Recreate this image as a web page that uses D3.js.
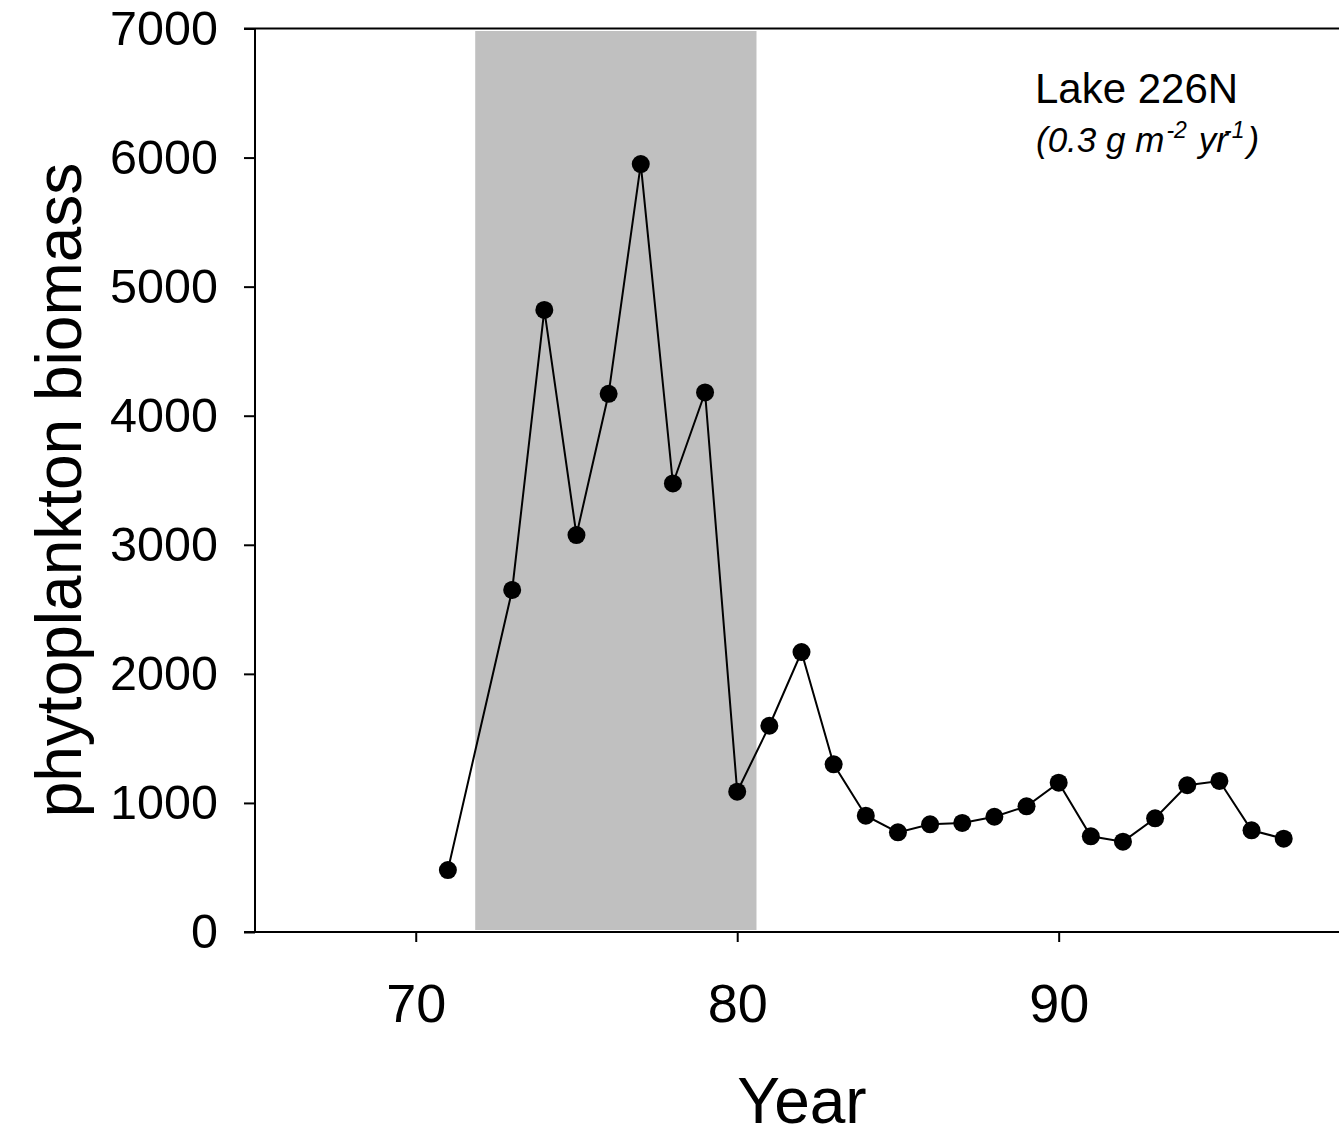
<!DOCTYPE html>
<html>
<head>
<meta charset="utf-8">
<script src="https://cdn.jsdelivr.net/npm/d3@7"></script>
<style>
  html, body { margin: 0; padding: 0; background: #fff; }
  svg { display: block; font-family: "Liberation Sans", Arial, sans-serif; }
</style>
</head>
<body>
<svg id="chart" width="1339" height="1128"></svg>
<script>
// ---- data ----
const years = [71, 73, 74, 75, 76, 77, 78, 79, 80, 81, 82, 83, 84, 85, 86, 87, 88, 89, 90, 91, 92, 93, 94, 95, 96, 97];
const biomass = [480, 2650, 4820, 3075, 4170, 5950, 3475, 4180, 1087, 1598, 2169, 1299, 901, 772, 834, 845, 893, 974, 1157, 741, 700, 881, 1137, 1170, 788, 723];
const xTicks = [70, 80, 90];
const yTicks = [0, 1000, 2000, 3000, 4000, 5000, 6000, 7000];
const shadeRange = [71.85, 80.6];
const xDomain = [65, 98.72];
const yDomain = [0, 7000];
const title = "Lake 226N";
const xLabel = "Year";
const yLabel = "phytoplankton biomass";

// ---- layout ----
const mLeft = 255, mRight = 1339, mTop = 28.5, mBottom = 932;
const svg = d3.select("#chart");

const x = d3.scaleLinear().domain(xDomain).range([mLeft, mRight]);
const y = d3.scaleLinear().domain(yDomain).range([mBottom, mTop]);

// shaded period
svg.append("rect")
  .attr("x", x(shadeRange[0]))
  .attr("y", y(yDomain[1]) + 2.5)
  .attr("width", x(shadeRange[1]) - x(shadeRange[0]))
  .attr("height", y(0) - y(yDomain[1]) - 4.5)
  .attr("fill", "#c0c0c0");

// y axis
const yAxis = svg.append("g")
  .attr("transform", `translate(${mLeft},0)`)
  .call(d3.axisLeft(y).tickValues(yTicks).tickSize(11).tickSizeOuter(0).tickPadding(26).tickFormat(d3.format("d")));
yAxis.select(".domain").remove();
yAxis.selectAll(".tick line").attr("stroke", "#000").attr("stroke-width", 2);
yAxis.selectAll(".tick text").attr("font-size", 48.5).attr("fill", "#000")
  .attr("font-family", "Liberation Sans, Arial, sans-serif");

// x axis
const xAxis = svg.append("g")
  .attr("transform", `translate(0,${mBottom})`)
  .call(d3.axisBottom(x).tickValues(xTicks).tickSize(10).tickSizeOuter(0).tickPadding(42).tickFormat(d3.format("d")));
xAxis.select(".domain").remove();
xAxis.selectAll(".tick line").attr("stroke", "#000").attr("stroke-width", 2);
xAxis.selectAll(".tick text").attr("font-size", 54).attr("fill", "#000")
  .attr("font-family", "Liberation Sans, Arial, sans-serif");

// frame lines
svg.append("line").attr("x1", mLeft - 11).attr("x2", mRight).attr("y1", mBottom).attr("y2", mBottom)
  .attr("stroke", "#000").attr("stroke-width", 2);
svg.append("line").attr("x1", mLeft - 11).attr("x2", mRight).attr("y1", mTop).attr("y2", mTop)
  .attr("stroke", "#000").attr("stroke-width", 2);
svg.append("line").attr("x1", mLeft).attr("x2", mLeft).attr("y1", mTop).attr("y2", mBottom)
  .attr("stroke", "#000").attr("stroke-width", 2);

// data line
const pts = years.map((yr, i) => [yr, biomass[i]]);
svg.append("path")
  .datum(pts)
  .attr("fill", "none")
  .attr("stroke", "#000")
  .attr("stroke-width", 2)
  .attr("d", d3.line().x(d => x(d[0])).y(d => y(d[1])));

svg.append("g").selectAll("circle")
  .data(pts)
  .join("circle")
  .attr("cx", d => x(d[0]))
  .attr("cy", d => y(d[1]))
  .attr("r", 9)
  .attr("fill", "#000");

// axis labels
svg.append("text")
  .attr("x", 802).attr("y", 1123)
  .attr("text-anchor", "middle")
  .attr("font-size", 64)
  .text(xLabel);

svg.append("text")
  .attr("transform", "translate(81,490) rotate(-90)")
  .attr("text-anchor", "middle")
  .attr("font-size", 64)
  .text(yLabel);

// annotation
svg.append("text")
  .attr("x", 1035).attr("y", 103)
  .attr("font-size", 42)
  .text(title);

const sub = svg.append("text")
  .attr("x", 1036).attr("y", 152)
  .attr("font-size", 35)
  .attr("font-style", "italic");
sub.append("tspan").text("(0.3 g m");
sub.append("tspan").attr("font-size", 23).attr("dy", -14).attr("dx", 2).text("-2");
sub.append("tspan").attr("dy", 14).attr("dx", 12).text("yr");
sub.append("tspan").attr("font-size", 23).attr("dy", -14).attr("dx", -4).text("-1");
sub.append("tspan").attr("dy", 14).attr("dx", 3).text(")");
</script>
</body>
</html>
